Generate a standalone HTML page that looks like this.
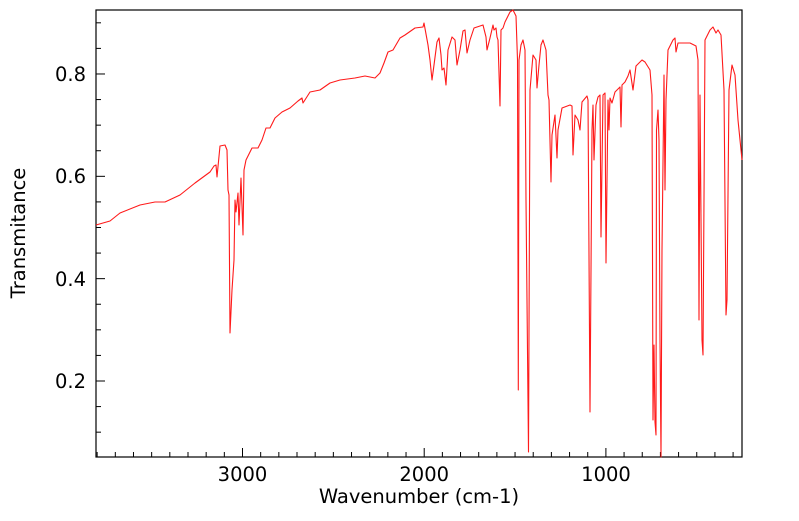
<!DOCTYPE html>
<html><head><meta charset="utf-8"><style>
body{margin:0;background:#fff;}
svg text{font-family:"DejaVu Sans","Liberation Sans",sans-serif;font-size:19.5px;fill:#000;}
</style></head><body>
<svg id="s" width="799" height="516" xmlns="http://www.w3.org/2000/svg">
<rect x="96" y="10" width="646" height="447" fill="none" stroke="#000" stroke-width="1.2"/>
<g id="ticks" stroke="#000" stroke-width="1"></g>
<polyline fill="none" stroke="#ff1a1a" stroke-width="1.1" stroke-linejoin="round" points="
96,225 110,221 120,213 140,205 155,202 165,202 180,195 195,183 210,172 214,166 216,165 217,177 220,146 225,145 227,150 228,190 229,195 230,333 232,290 234,260 235,200 236,212 238,193 239,225 241,178 243,235 244,170 246,160 252,148 258,148 262,140 266,128 270,128 275,118 282,112 290,108 298,101 302,98 303,103 310,92 320,90 330,83 340,80 355,78 365,76 375,78 380,73 384,63 388,52 393,50 400,38 405,35 415,28 423,27 424,23 428,45 430,60 432,80 434,65 437,42 439,38 441,55 442,70 444,68 446,85 448,50 452,37 455,40 457,65 460,50 463,31 465,30 467,53 470,40 474,28 480,26 483,25 486,37 487,50 490,38 493,25 494,30 496,28 497,37 498,40 500,106 501,30 503,28 505,22 510,12 513,10 516,16 517.5,60 518.3,390 519,60 521,45 523,40 525,50 526,200 528.5,452 530,90 533,55 536,60 537,88 539,65 541,45 543,40 546,50 548,95 549,100 551,182 552,135 555,115 557,158 558,130 562,108 570,105 572,106 573,155 575,115 578,120 580,130 582,102 587,96 588,100 590,412 592,130 593,105 594,160 596,105 598,97 600,95 601,237 603,95 605,93 606,263 608,100 609,130 610,98 612,103 615,92 620,87 621,127 622,85 625,82 628,76 630,70 633,90 636,66 642,60 645,62 650,70 652,95 653,420 654,345 655,422 656,435 656.5,130 658,110 659,140 660,340 661,457 662,250 664,75 665,190 666,100 668,50 673,40 675,38 676,52 678,43 690,43 696,46 698,60 699,320 700,95 702,340 703,355 705,40 710,30 713,27 716,33 718,30 721,35 724,90 726,315 727,300 729,90 732,65 735,75 738,120 742,160"/>
<text x="86" y="388" text-anchor="end">0.2</text>
<text x="86" y="286" text-anchor="end">0.4</text>
<text x="86" y="183" text-anchor="end">0.6</text>
<text x="86" y="81" text-anchor="end">0.8</text>
<text x="242.5" y="481" text-anchor="middle">3000</text>
<text x="424.2" y="481" text-anchor="middle">2000</text>
<text x="606" y="481" text-anchor="middle">1000</text>
<text x="419" y="503" text-anchor="middle">Wavenumber (cm-1)</text>
<text transform="translate(25,233) rotate(-90)" text-anchor="middle">Transmitance</text>
</svg>
<script>
var g=document.getElementById('ticks'),h='';
for(var w=3800;w>=300;w-=100){var x=242.5+(3000-w)*0.1817;if(x<96||x>742)continue;var L=(w%1000==0)?9:5;h+='<line x1="'+x+'" y1="457" x2="'+x+'" y2="'+(457-L)+'"/>';}
for(var k=1;k<=18;k++){var v=k*0.05;var y=381-(v-0.2)*511.7;if(y<10||y>457)continue;var L=(k%4==0)?9:5;h+='<line x1="96" y1="'+y+'" x2="'+(96+L)+'" y2="'+y+'"/>';}
g.innerHTML=h;
</script>
</body></html>
